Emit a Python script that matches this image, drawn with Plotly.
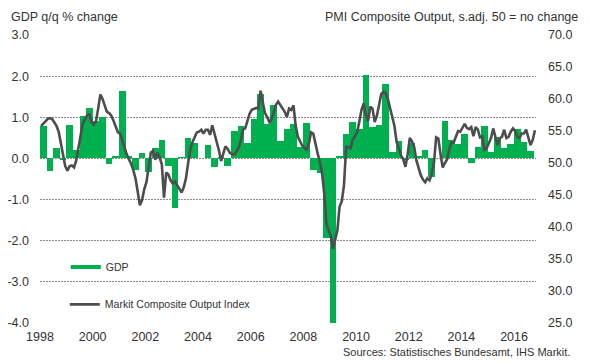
import plotly.graph_objects as go

# ---------------- data ----------------
start_year = 1998
# GDP q/q % change, quarterly, 1998Q1 .. 2016Q3
gdp = [
    0.80, -0.30, 0.26, -0.05,   # 1998
    0.81, 0.20, 1.03, 1.23,     # 1999
    0.90, 1.01, -0.14, 0.07,    # 2000
    1.64, 0.07, -0.28, 0.12,    # 2001
    -0.32, 0.26, 0.46, -0.18,   # 2002
    -1.21, 0.03, 0.49, 0.37,    # 2003
    0.02, 0.33, -0.20, 0.03,    # 2004
    -0.18, 0.67, 0.79, 0.37,    # 2005
    0.95, 1.57, 0.84, 1.30,     # 2006
    0.42, 0.71, 0.84, 0.27,     # 2007
    0.85, -0.27, -0.36, -1.93,  # 2008
    -4.00, 0.07, 0.59, 0.88,    # 2009
    0.71, 2.04, 0.77, 0.81,     # 2010
    1.82, 0.16, 0.43, -0.05,    # 2011
    0.37, 0.06, 0.20, -0.44,    # 2012
    0.00, 0.91, 0.45, 0.35,     # 2013
    0.59, -0.10, 0.27, 0.79,    # 2014
    0.16, 0.51, 0.25, 0.35,     # 2015
    0.71, 0.41, 0.18,           # 2016
]

# Markit Composite Output Index, monthly, Jan 1998 .. Oct 2016
pmi = [
    55.8, 56.1, 56.5, 56.9, 57.0, 56.9, 56.4, 55.8, 54.9, 53.0, 51.3, 49.5,  # 1998
    48.8, 49.5, 49.6, 49.3, 50.4, 52.5, 54.5, 56.2, 56.8, 57.5, 57.6, 56.4,  # 1999
    56.0, 56.5, 58.5, 60.7, 60.0, 58.8, 58.0, 57.8, 57.4, 56.6, 55.6, 54.8,  # 2000
    54.6, 53.4, 52.3, 51.4, 50.6, 49.9, 48.9, 47.6, 45.6, 43.4, 44.2, 45.9,  # 2001
    47.0, 49.6, 51.6, 51.9, 50.5, 51.6, 50.9, 49.8, 44.6, 48.5, 48.2, 47.3,  # 2002
    46.8, 47.1, 46.5, 45.9, 45.4, 46.2, 47.6, 50.0, 52.2, 53.3, 54.2, 54.8,  # 2003
    54.9, 55.2, 54.6, 55.2, 55.2, 54.4, 55.9, 54.7, 53.5, 52.0, 50.3, 51.4,  # 2004
    52.6, 52.2, 51.6, 51.4, 51.3, 51.8, 52.4, 53.5, 55.2, 55.4, 56.4, 57.7,  # 2005
    58.3, 58.5, 58.6, 58.5, 61.3, 59.5, 57.8, 57.2, 56.4, 56.8, 57.8, 59.1,  # 2006
    59.6, 59.1, 58.4, 58.0, 57.2, 58.5, 58.3, 59.0, 55.8, 54.1, 53.4, 52.7,  # 2007
    52.4, 52.0, 53.0, 54.8, 54.6, 52.9, 51.5, 50.2, 48.4, 45.3, 40.5, 39.5,  # 2008
    38.6, 36.6, 38.0, 39.5, 43.2, 44.0, 46.5, 52.5, 52.5, 52.3, 53.6, 54.2,  # 2009
    54.8, 56.5, 58.3, 59.3, 57.5, 56.6, 58.8, 58.5, 56.4, 57.4, 59.4, 60.8,  # 2010
    61.1, 60.9, 60.0, 58.7, 57.0, 55.8, 53.3, 52.1, 51.2, 50.6, 49.4, 51.3,  # 2011
    53.9, 53.4, 52.5, 50.4, 49.2, 48.1, 47.4, 47.0, 47.6, 47.3, 48.3, 50.0,  # 2012
    54.0, 53.8, 51.4, 49.3, 50.0, 50.6, 52.2, 53.2, 53.2, 54.0, 55.0, 54.9,  # 2013
    55.5, 56.1, 55.5, 55.3, 55.6, 54.2, 55.6, 55.2, 54.0, 54.1, 52.1, 52.3,  # 2014
    53.1, 53.9, 55.4, 54.1, 52.8, 53.9, 54.1, 55.2, 53.9, 54.1, 54.9, 55.4,  # 2015
    55.0, 54.1, 53.9, 54.6, 54.6, 55.2, 54.0, 52.8, 53.6, 55.1,              # 2016
]

gdp_tick_vals = [-4, -3, -2, -1, 0, 1, 2, 3]
gdp_tick_labels = ["-4.0", "-3.0", "-2.0", "-1.0", "0.0", "1.0", "2.0", "3.0"]
pmi_tick_vals = [25, 30, 35, 40, 45, 50, 55, 60, 65, 70]
pmi_tick_labels = ["25.0", "30.0", "35.0", "40.0", "45.0", "50.0", "55.0", "60.0", "65.0", "70.0"]
year_ticks = [1998, 2000, 2002, 2004, 2006, 2008, 2010, 2012, 2014, 2016]
year_labels = [str(y) for y in year_ticks]

# ---------------- positions (decimal years) ----------------
q_x = [start_year + (i + 0.5) / 4 for i in range(len(gdp))]
m_x = [start_year + (i + 0.5) / 12 for i in range(len(pmi))]
x_end = start_year + len(pmi) / 12

GREEN = "#00B04F"
LINE = "#4D4D4D"
TXT = "#333333"
FONT = "Arial, Liberation Sans, sans-serif"

fig = go.Figure()
fig.add_trace(go.Bar(
    x=q_x, y=gdp, width=0.25, marker=dict(color=GREEN, line=dict(width=0)),
    showlegend=False, name="GDP", xaxis="x", yaxis="y", hoverinfo="skip"))
fig.add_trace(go.Scatter(
    x=m_x, y=pmi, mode="lines", line=dict(color=LINE, width=2.6),
    name="Markit Composite Output Index", xaxis="x", yaxis="y2", legend="legend2"))
# legend entry for GDP drawn as a thick line swatch
fig.add_trace(go.Scatter(
    x=[None], y=[None], mode="lines", line=dict(color=GREEN, width=4),
    name="GDP", legend="legend"))

fig.update_layout(
    template="none",
    width=590, height=363,
    margin=dict(l=40, r=54, t=35, b=40, autoexpand=False),
    paper_bgcolor="white", plot_bgcolor="white",
    font=dict(family=FONT, size=12, color=TXT),
    bargap=0,
    xaxis=dict(
        range=[start_year, x_end], tickmode="array", tickvals=year_ticks, ticktext=year_labels,
        showgrid=False, zeroline=False, showline=False, ticks="", automargin=False,
        tickfont=dict(size=12.5, color=TXT), ticklabelstandoff=4),
    xaxis2=dict(
        range=[start_year, x_end], overlaying="x", anchor="free",
        position=4 / 7, side="bottom", showline=True, linecolor="#8C8C8C", linewidth=1,
        ticks="outside", ticklen=3, tickcolor="#8C8C8C", dtick=1, tick0=start_year,
        showticklabels=False, showgrid=False, zeroline=False, automargin=False),
    yaxis=dict(
        range=[-4, 3], tickmode="array", tickvals=gdp_tick_vals, ticktext=gdp_tick_labels,
        showgrid=True, gridcolor="#8C8C8C", gridwidth=1, griddash="2px,1px",
        zeroline=False, showline=False, ticks="", automargin=False,
        tickfont=dict(size=12.5, color=TXT), ticklabelstandoff=10),
    yaxis2=dict(
        range=[25, 70], overlaying="y", side="right", tickmode="array",
        tickvals=pmi_tick_vals, ticktext=pmi_tick_labels,
        showgrid=False, zeroline=False, showline=False, ticks="", automargin=False,
        tickfont=dict(size=12.5, color=TXT), ticklabelstandoff=11),
    legend=dict(x=0.052, y=0.245, xanchor="left", yanchor="top",
                bgcolor="rgba(0,0,0,0)", font=dict(size=10.5, color=TXT),
                itemwidth=30, tracegroupgap=0),
    legend2=dict(x=0.05, y=0.115, xanchor="left", yanchor="top",
                 bgcolor="rgba(0,0,0,0)", font=dict(size=10.5, color=TXT),
                 itemwidth=30),
    annotations=[
        dict(text="GDP q/q % change", xref="paper", yref="paper",
             x=-31 / 496, y=1 + 18 / 288, xanchor="left", yanchor="middle",
             showarrow=False, font=dict(size=12.5, color=TXT)),
        dict(text="PMI Composite Output, s.adj. 50 = no change", xref="paper", yref="paper",
             x=1 + 44 / 496, y=1 + 18 / 288, xanchor="right", yanchor="middle",
             showarrow=False, font=dict(size=12.5, color=TXT)),
        dict(text="Sources: Statistisches Bundesamt, IHS Markit.", xref="paper", yref="paper",
             x=1 + 36 / 496, y=-29 / 288, xanchor="right", yanchor="middle",
             showarrow=False, font=dict(size=11, color=TXT)),
    ],
)

fig.write_html(
    "out.html",
    config={"displayModeBar": False, "staticPlot": True},
    post_script="document.body.style.margin='0px';document.body.style.padding='0px';"
                "document.body.style.overflow='hidden';",
)
